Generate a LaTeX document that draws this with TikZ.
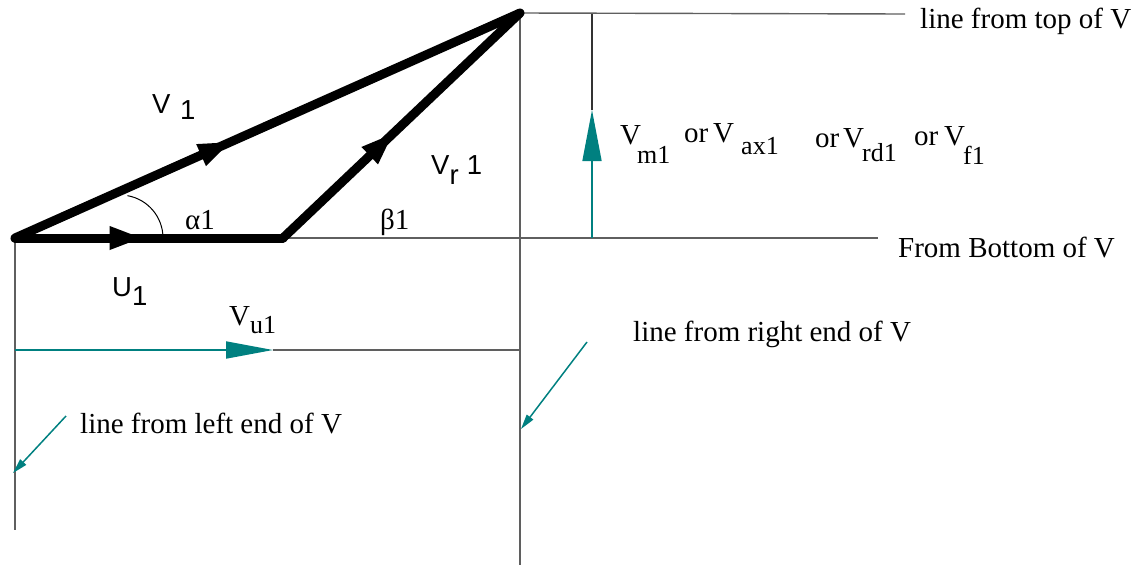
\documentclass[tikz,border=0pt]{standalone}
\usepackage{fontspec}
\setmainfont{Liberation Serif}
\setsansfont{Liberation Sans}
\usetikzlibrary{arrows.meta,decorations.markings}
\definecolor{tealc}{RGB}{0,128,128}
\definecolor{guide}{RGB}{95,95,95}
\begin{document}
\begin{tikzpicture}[x=1pt,y=-1pt,
  vec/.style={line width=9pt, line cap=round, line join=round},
  guideline/.style={draw=guide, line width=1.4pt},
  serif/.style={font=\fontsize{29}{33}\selectfont, inner sep=0pt},
  subs/.style={font=\fontsize{26}{30}\selectfont, inner sep=0pt},
  sans/.style={font=\sffamily\fontsize{27.5}{32}\selectfont, inner sep=0pt},
  midarrow/.style={postaction={decorate}, decoration={markings,
     mark=at position #1 with {\arrow{Triangle[length=34pt,width=21pt]}}}},
  pointer/.style={draw=tealc, line width=1.5pt, -{Triangle[length=15pt,width=8pt]}}]
\useasboundingbox (0,0) rectangle (1139,565);
% key points
\coordinate (O) at (15,238);
\coordinate (B) at (283,238);
\coordinate (T) at (520,13);
\coordinate (topEnd) at (905,14);
\coordinate (botEnd) at (878,238);
\coordinate (rightFoot) at (520,565);
\coordinate (leftFoot) at (15,530);
\coordinate (L3) at (15,350);
\coordinate (Vu) at (273,350);
\coordinate (R3) at (520,350);
\coordinate (mBot) at (592,238);
\coordinate (mTip) at (592,110);
\coordinate (mTop) at (592,14);
\coordinate (pl0) at (66,416);
\coordinate (pl1) at (13,473);
\coordinate (pr0) at (587,342);
\coordinate (pr1) at (521,429);
\coordinate (arcS) at (163,238);
% guide lines
\draw[guideline] (T) -- (topEnd);
\draw[guideline] (O) -- (botEnd);
\draw[guideline] (T) -- (rightFoot);
\draw[guideline] (O) -- (leftFoot);
\draw[guideline] (Vu) -- (R3);
\draw[draw=black!80, line width=1.2pt] (mTip) -- (mTop);
% teal arrows
\draw[draw=tealc, line width=1.8pt, -{Triangle[length=47pt,width=17pt]}] (L3) -- (Vu);
\draw[draw=tealc, line width=1.6pt, -{Triangle[length=51pt,width=19pt]}] (mBot) -- (mTip);
\draw[pointer] (pl0) -- (pl1);
\draw[pointer] (pr0) -- (pr1);
% angle arc
\draw[line width=1pt] (arcS) arc[start angle=0, end angle=-80, radius=43];
% velocity triangle
\draw[vec, midarrow=0.43] (O) -- (T);
\draw[vec, midarrow=0.48] (O) -- (B);
\draw[vec, midarrow=0.47] (B) -- (T);
% labels (sans)
\node[sans, anchor=base west] (v1) at (152,113) {V\hspace{0.35em}\raisebox{-6pt}{1}};
\node[sans, anchor=base west] (u1) at (112,296) {U\raisebox{-9pt}{1}};
\node[sans, anchor=base west] (vr1) at (431,174) {V\raisebox{-10pt}{r}\hspace{0.3em}1};
% labels (serif)
\node[serif, anchor=base west] (alpha) at (185,229) {α1};
\node[serif, anchor=base west] (beta) at (380,229) {β1};
\node[serif, anchor=base west] (vu) at (229,325) {V};
\node[subs, anchor=base west] (vusub) at (250,333) {u1};
\node[serif, anchor=base west] (vm) at (620,144) {V};
\node[subs, anchor=base west] (vmsub) at (637,163) {m1};
\node[serif, anchor=base west] (or1) at (684,142) {or};
\node[serif, anchor=base west] (vax) at (713,142) {V};
\node[subs, anchor=base west] (vaxsub) at (741,154) {ax1};
\node[serif, anchor=base west] (or2) at (815,147) {or};
\node[serif, anchor=base west] (vrd) at (843,147) {V};
\node[subs, anchor=base west] (vrdsub) at (862,161) {rd1};
\node[serif, anchor=base west] (or3) at (914,145) {or};
\node[serif, anchor=base west] (vf) at (944,145) {V};
\node[subs, anchor=base west] (vfsub) at (963,164) {f1};
\node[serif, anchor=base west] (ttop) at (920,28) {line from top of V};
\node[serif, anchor=base west] (tbot) at (898,257) {From Bottom of V};
\node[serif, anchor=base west] (tright) at (633,341) {line from right end of V};
\node[serif, anchor=base west] (tleft) at (80,433) {line from left end of V};
\end{tikzpicture}
\end{document}
